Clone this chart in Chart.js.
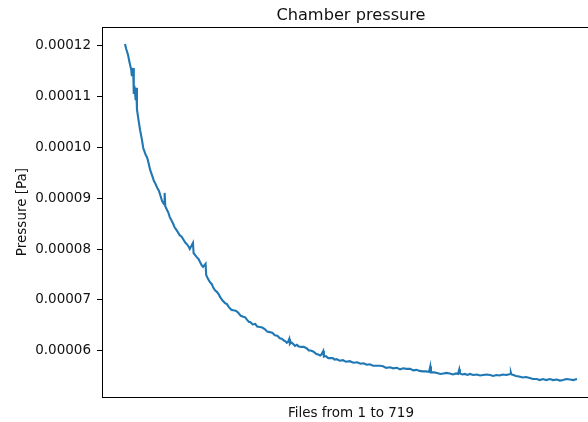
<!DOCTYPE html>
<html><head><meta charset="utf-8">
<script src="https://cdn.jsdelivr.net/npm/chart.js@4/dist/chart.umd.min.js"></script>
<style>html,body{margin:0;padding:0;background:#fff;overflow:hidden}#wrap{width:588px;height:422px;position:relative}</style>
</head><body><div id="wrap"><canvas id="c" width="588" height="422"></canvas></div>
<script>
const chartTitle = 'Chamber pressure';
const xAxisLabel = 'Files from 1 to 719';
const yAxisLabel = 'Pressure [Pa]';

const fileIndex = [1,3,6,8,11,12,14,15,16,18,19,20,22,25,28,30,34,36,38,41,45,47,49,53,55,57,60,63,64,65,68,70,72,77,80,83,88,91,94,97,99,102,104,109,110,115,118,120,123,125,129,130,133,136,139,141,144,147,150,152,156,160,163,166,170,173,177,181,185,189,192,195,198,
200,204,208,211,215,219,223,227,231,235,239,243,247,250,254,256,258,260,262,263,265,268,271,274,277,281,285,290,293,296,300,305,308,311,313,316,317,320,324,327,331,334,337,342,347,352,358,364,370,375,380,385,390,395,401,406,411,416,422,427,433,438,443,448,454,459,464,469,474,479,484,486,487,492,497,502,507,512,517,522,527,530,532,533,537,541,545,549,554,560,565,570,575,581,586,591,596,601,607,613,614,615,618,622,627,633,638,644,649,655,660,665,670,676,681,687,692,697,702,708,713,719];

const pressure = [12.02e-5,11.92e-5,11.80e-5,11.67e-5,11.51e-5,11.39e-5,11.55e-5,11.04e-5,11.20e-5,10.92e-5,11.16e-5,10.74e-5,10.57e-5,10.33e-5,10.14e-5,9.98e-5,9.84e-5,9.80e-5,9.71e-5,9.55e-5,9.41e-5,9.33e-5,9.29e-5,9.18e-5,9.14e-5,9.06e-5,8.94e-5,8.88e-5,9.10e-5,8.84e-5,8.76e-5,8.71e-5,8.63e-5,8.51e-5,8.42e-5,8.37e-5,8.27e-5,8.24e-5,8.18e-5,8.12e-5,8.10e-5,8.05e-5,8.00e-5,8.12e-5,7.92e-5,7.84e-5,7.80e-5,7.75e-5,7.68e-5,7.65e-5,7.71e-5,7.49e-5,7.41e-5,7.35e-5,7.31e-5,7.25e-5,7.19e-5,7.16e-5,7.11e-5,7.06e-5,6.99e-5,6.94e-5,6.92e-5,6.86e-5,6.81e-5,6.80e-5,6.79e-5,6.75e-5,6.69e-5,6.67e-5,6.66e-5,6.61e-5,6.57e-5,
6.57e-5,6.52e-5,6.53e-5,6.48e-5,6.47e-5,6.46e-5,6.43e-5,6.38e-5,6.37e-5,6.36e-5,6.31e-5,6.30e-5,6.25e-5,6.24e-5,6.20e-5,6.19e-5,6.16e-5,6.18e-5,6.24e-5,6.14e-5,6.17e-5,6.14e-5,6.10e-5,6.12e-5,6.09e-5,6.08e-5,6.08e-5,6.05e-5,6.01e-5,6.01e-5,5.99e-5,5.94e-5,5.93e-5,5.91e-5,5.93e-5,6.00e-5,5.89e-5,5.90e-5,5.86e-5,5.86e-5,5.86e-5,5.83e-5,5.84e-5,5.81e-5,5.82e-5,5.79e-5,5.80e-5,5.77e-5,5.78e-5,5.75e-5,5.76e-5,5.73e-5,5.74e-5,5.71e-5,5.71e-5,5.71e-5,5.70e-5,5.67e-5,5.68e-5,5.66e-5,5.67e-5,5.64e-5,5.66e-5,5.65e-5,5.65e-5,5.62e-5,5.63e-5,5.61e-5,5.60e-5,5.60e-5,5.59e-5,5.70e-5,5.58e-5,5.58e-5,5.57e-5,5.55e-5,5.56e-5,5.57e-5,5.56e-5,5.54e-5,5.56e-5,5.55e-5,5.64e-5,5.56e-5,5.54e-5,5.55e-5,5.53e-5,5.55e-5,5.53e-5,5.54e-5,5.52e-5,5.53e-5,5.54e-5,5.53e-5,5.51e-5,5.53e-5,5.52e-5,5.54e-5,5.53e-5,5.55e-5,5.58e-5,5.54e-5,5.53e-5,5.51e-5,5.50e-5,5.48e-5,5.49e-5,5.47e-5,5.45e-5,5.45e-5,5.43e-5,5.45e-5,5.43e-5,5.45e-5,5.43e-5,5.44e-5,5.42e-5,5.43e-5,5.45e-5,5.44e-5,5.43e-5,5.45e-5];

const yTickValues = [0.00006, 0.00007, 0.00008, 0.00009, 0.00010, 0.00011, 0.00012];
const xLimits = [-35.5, 736.5];
const yLimits = [5.098e-5, 12.353e-5];

const FONT = 'DejaVu Sans';

const textPlugin = {
  id: 'mplText',
  afterDraw(chart) {
    const {ctx, chartArea} = chart;
    const xs = chart.scales.x;
    const cx = xs.getPixelForValue((fileIndex[0] + fileIndex[fileIndex.length - 1]) / 2);
    ctx.save();
    ctx.strokeStyle = '#000';
    ctx.lineWidth = 1;
    ctx.beginPath();
    ctx.moveTo(chartArea.left, chartArea.top + 0.5);
    ctx.lineTo(chartArea.right, chartArea.top + 0.5);
    ctx.stroke();
    ctx.fillStyle = '#111';
    ctx.textAlign = 'center';
    ctx.textBaseline = 'alphabetic';
    ctx.font = '16.2px "' + FONT + '"';
    ctx.fillText(chartTitle, cx, 20);
    ctx.font = '13.5px "' + FONT + '"';
    ctx.fillText(xAxisLabel, cx, 417);
    ctx.translate(22, (chartArea.top + chartArea.bottom) / 2);
    ctx.rotate(-Math.PI / 2);
    ctx.textBaseline = 'middle';
    ctx.fillText(yAxisLabel, 0, 0);
    ctx.restore();
  }
};

new Chart(document.getElementById('c'), {
  type: 'line',
  data: {
    datasets: [{
      data: fileIndex.map((f, k) => ({x: f, y: pressure[k]})),
      borderColor: '#1f77b4',
      borderWidth: 2.1,
      pointRadius: 0,
      fill: false,
      tension: 0
    }]
  },
  options: {
    responsive: false,
    animation: false,
    devicePixelRatio: 1,
    layout: {padding: {left: 0, top: 27, right: 0, bottom: 25}},
    plugins: {legend: {display: false}, tooltip: {enabled: false}, title: {display: false}},
    scales: {
      x: {
        type: 'linear',
        min: xLimits[0], max: xLimits[1],
        ticks: {display: false},
        grid: {display: false},
        border: {display: true, color: '#000', width: 1},
        afterFit: s => { s.height = 0; }
      },
      y: {
        type: 'linear',
        min: yLimits[0], max: yLimits[1],
        afterBuildTicks: s => { s.ticks = yTickValues.map(v => ({value: v})); },
        ticks: {
          callback: v => Number(v).toFixed(5),
          color: '#111',
          padding: 6,
          font: {family: FONT, size: 13.5}
        },
        grid: {drawOnChartArea: false, drawTicks: true, tickLength: 5, color: '#000'},
        border: {display: true, color: '#000', width: 1},
        afterFit: s => { s.width = 102; }
      }
    }
  },
  plugins: [textPlugin]
});
</script></body></html>
